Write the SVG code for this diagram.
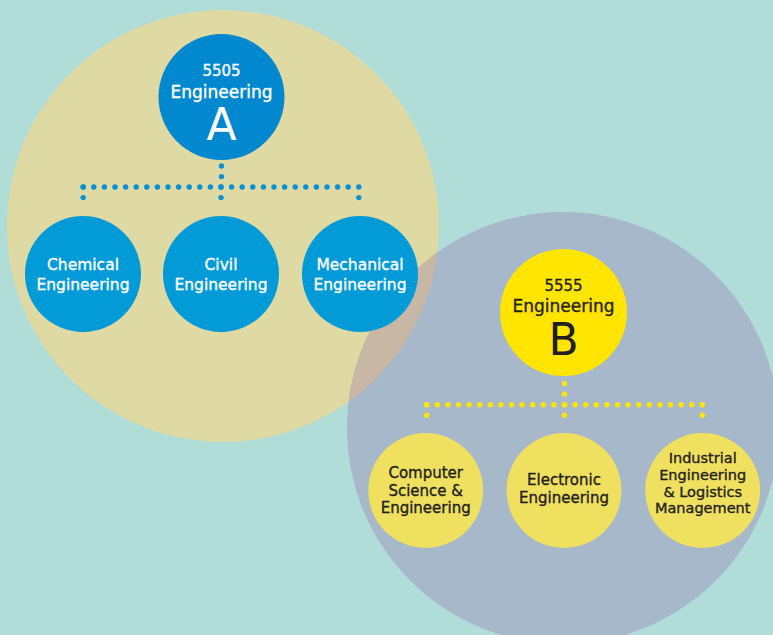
<svg xmlns="http://www.w3.org/2000/svg" width="773" height="635" viewBox="0 0 773 635">
  <defs>
    <clipPath id="clipA">
      <circle cx="223" cy="226" r="216"/>
    </clipPath>
    <style>
      text { font-family: "DejaVu Sans", "Liberation Sans", sans-serif; text-anchor: middle; stroke-width: 0.35px; }
      .wt { fill: #ffffff; stroke: #ffffff; }
      .dk { fill: #231f20; stroke: #231f20; }
      .dotsA { stroke: #0a90d3; stroke-width: 5.4; stroke-linecap: round; stroke-dasharray: 0 10.6; fill: none; }
      .dotsB { stroke: #ffe500; stroke-width: 5.4; stroke-linecap: round; stroke-dasharray: 0 10.6; fill: none; }
      .headA { fill: #0288cf; }
      .childA { fill: #039ad8; }
      .headB { fill: #ffe500; }
      .childB { fill: #f0e05f; }
      .c15 { font-size: 15.5px; }
      .c14 { font-size: 14.5px; }
      .c15b { font-size: 15px; }
      .big { stroke-width: 0; }
    </style>
  </defs>
  <rect id="background" x="0" y="0" width="773" height="635" fill="#b1ddd9"/>
  <g id="groupA-area">
    <circle cx="223" cy="226" r="216" fill="#dfd9a4"/>
  </g>
  <g id="groupB-area">
    <circle cx="563" cy="428" r="216" fill="#a8b8cb"/>
    <circle cx="563" cy="428" r="216" fill="#c8b7a5" clip-path="url(#clipA)"/>
  </g>
  <g id="connectors">
    <line class="dotsA" x1="221.5" y1="166" x2="221.5" y2="187"/>
    <line class="dotsA" x1="83.2" y1="187" x2="358.8" y2="187"/>
    <line class="dotsA" x1="83.2" y1="187" x2="83.2" y2="208.2"/>
    <line class="dotsA" x1="221" y1="187" x2="221" y2="208.2"/>
    <line class="dotsA" x1="358.8" y1="187" x2="358.8" y2="208.2"/>
    <line class="dotsB" x1="564.5" y1="383.5" x2="564.5" y2="404.7"/>
    <line class="dotsB" x1="426.7" y1="404.7" x2="702.3" y2="404.7"/>
    <line class="dotsB" x1="426.7" y1="404.7" x2="426.7" y2="425.9"/>
    <line class="dotsB" x1="564.5" y1="404.7" x2="564.5" y2="425.9"/>
    <line class="dotsB" x1="702.3" y1="404.7" x2="702.3" y2="425.9"/>
  </g>
  <g id="node-A">
    <circle class="headA" cx="221.5" cy="97" r="63"/>
    <text class="wt" x="221.5" y="76" font-size="15">5505</text>
    <text class="wt" x="221.5" y="98" font-size="17">Engineering</text>
    <text class="wt big" x="221.5" y="140" font-size="44">A</text>
  </g>
  <g id="node-chemical">
    <circle class="childA" cx="83" cy="274" r="58"/>
    <text class="wt c15" x="83" y="270">Chemical</text>
    <text class="wt c15" x="83" y="290">Engineering</text>
  </g>
  <g id="node-civil">
    <circle class="childA" cx="221" cy="274" r="58"/>
    <text class="wt c15" x="221" y="270">Civil</text>
    <text class="wt c15" x="221" y="290">Engineering</text>
  </g>
  <g id="node-mechanical">
    <circle class="childA" cx="360" cy="274" r="58"/>
    <text class="wt c15" x="360" y="270">Mechanical</text>
    <text class="wt c15" x="360" y="290">Engineering</text>
  </g>
  <g id="node-B">
    <circle class="headB" cx="563.5" cy="312.5" r="63.5"/>
    <text class="dk" x="563.5" y="291" font-size="15">5555</text>
    <text class="dk" x="563.5" y="312" font-size="17">Engineering</text>
    <text class="dk big" x="563.5" y="355" font-size="44">B</text>
  </g>
  <g id="node-computer">
    <circle class="childB" cx="425.7" cy="490.5" r="57.5"/>
    <text class="dk c15b" x="425.7" y="477.7">Computer</text>
    <text class="dk c15b" x="425.7" y="495.5">Science &amp;</text>
    <text class="dk c15b" x="425.7" y="513.3">Engineering</text>
  </g>
  <g id="node-electronic">
    <circle class="childB" cx="564" cy="490.5" r="57.5"/>
    <text class="dk c15b" x="564" y="485">Electronic</text>
    <text class="dk c15b" x="564" y="503.3">Engineering</text>
  </g>
  <g id="node-industrial">
    <circle class="childB" cx="702.7" cy="490.5" r="57.5"/>
    <text class="dk c14" x="702.7" y="463.3">Industrial</text>
    <text class="dk c14" x="702.7" y="480">Engineering</text>
    <text class="dk c14" x="702.7" y="496.7">&amp; Logistics</text>
    <text class="dk c14" x="702.7" y="513.3">Management</text>
  </g>
</svg>
